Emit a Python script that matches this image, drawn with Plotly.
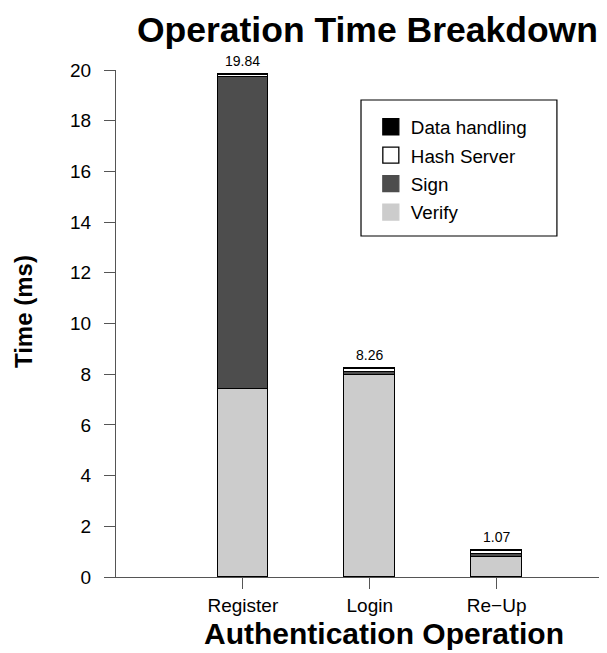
import plotly.graph_objects as go

categories = ["Register", "Login", "Re\u2212Up"]
verify = [7.42, 7.95, 0.78]
sign = [12.32, 0.15, 0.13]
hash_server = [0.05, 0.10, 0.10]
data_handling = [0.05, 0.06, 0.06]
totals = [19.84, 8.26, 1.07]
total_labels = ["19.84", "8.26", "1.07"]
y_ticks = [0, 2, 4, 6, 8, 10, 12, 14, 16, 18, 20]

FONT = "Liberation Sans, Arial, Helvetica, sans-serif"

fig = go.Figure()
series = [
    ("Verify", verify, "#cccccc", "#cccccc"),
    ("Sign", sign, "#4d4d4d", "#4d4d4d"),
    ("Hash Server", hash_server, "#ffffff", "#000000"),
    ("Data handling", data_handling, "#000000", "#000000"),
]
x_idx = list(range(len(categories)))
for name, vals, col, edge in series:
    fig.add_trace(go.Bar(
        x=x_idx, y=vals, name=name, width=0.4, showlegend=False,
        marker=dict(color=col, line=dict(color="black", width=1.3)),
    ))
# legend keys (square swatches), top entry = top of stack
for name, vals, col, edge in reversed(series):
    fig.add_trace(go.Scatter(
        x=[None], y=[None], mode="markers", name=name, legendgroup=name,
        marker=dict(symbol="square", size=16, color=col, line=dict(color=edge, width=1.3)),
    ))

for xi, t, lab in zip(x_idx, totals, total_labels):
    fig.add_annotation(x=xi, y=t, text=lab, showarrow=False, yanchor="bottom",
                       yshift=3, font=dict(size=14, color="black", family=FONT))

# axis titles
fig.add_annotation(x=0.546, y=-0.112, xref="paper", yref="paper",
                   text="<b>Authentication Operation</b>", showarrow=False,
                   xanchor="center", yanchor="middle", font=dict(size=30, family=FONT))
fig.add_annotation(x=-0.187, y=0.523, xref="paper", yref="paper",
                   text="<b>Time (ms)</b>", showarrow=False, textangle=-90,
                   xanchor="center", yanchor="middle", font=dict(size=24, family=FONT))

# legend frame
fig.add_shape(type="rect", xref="paper", yref="paper",
              x0=0.499, x1=0.898, y0=0.6726, y1=0.9408,
              line=dict(color="black", width=1.2), fillcolor="rgba(0,0,0,0)")

fig.update_layout(
    width=599, height=645,
    barmode="stack",
    plot_bgcolor="white", paper_bgcolor="white",
    font=dict(family=FONT, color="black", size=18),
    margin=dict(l=108, r=0, t=62, b=76),
    title=dict(text="<b>Operation Time Breakdown</b>", font=dict(size=35.5, family=FONT),
               x=0.6, xref="container", xanchor="center", y=0.966, yanchor="middle"),
    xaxis=dict(
        range=[-1.0, 2.87], tickmode="array", tickvals=x_idx, ticktext=categories,
        showline=True, linecolor="#555555", linewidth=1.3,
        ticks="outside", ticklen=11, tickcolor="#555555", tickwidth=1.3,
        showgrid=False, zeroline=False,
        tickfont=dict(size=19),
    ),
    yaxis=dict(
        range=[0, 20], tickmode="array", tickvals=y_ticks,
        showline=True, linecolor="#555555", linewidth=1.3,
        ticks="outside", ticklen=11, tickcolor="#555555", tickwidth=1.3,
        showgrid=False, zeroline=False,
        tickfont=dict(size=19), ticklabelstandoff=9,
    ),
    legend=dict(
        x=0.519, y=0.925, xanchor="left", yanchor="top",
        borderwidth=0, bgcolor="rgba(0,0,0,0)",
        traceorder="grouped", font=dict(size=18.8), tracegroupgap=1,
        itemsizing="trace",
    ),
    bargap=0,
)

fig.write_html("out.html")
